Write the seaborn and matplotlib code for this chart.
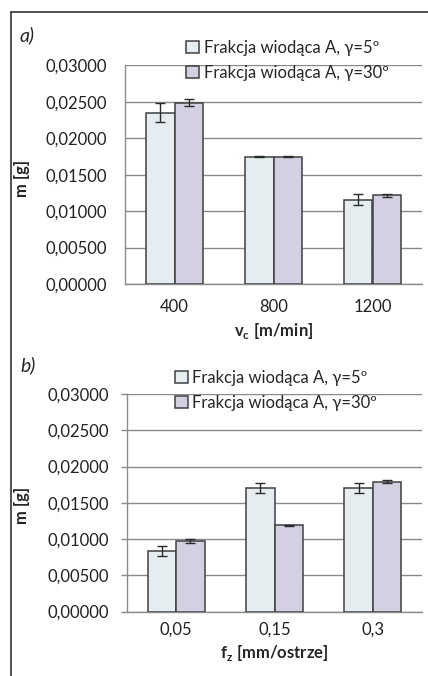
import pandas as pd
import matplotlib.pyplot as plt
import seaborn as sns
from matplotlib.lines import Line2D
from matplotlib.ticker import FuncFormatter, FixedLocator

# Data
series = ['Frakcja wiodąca A, γ=5º', 'Frakcja wiodąca A, γ=30º']

vc_labels = ['400', '800', '1200']
vc_g5 = [0.0235, 0.0175, 0.0116]
vc_g5_err = [0.0013, 0.00005, 0.0007]
vc_g30 = [0.0249, 0.0175, 0.0122]
vc_g30_err = [0.0005, 0.00005, 0.0002]

fz_labels = ['0,05', '0,15', '0,3']
fz_g5 = [0.0084, 0.0170, 0.0170]
fz_g5_err = [0.0007, 0.0007, 0.0007]
fz_g30 = [0.0097, 0.0119, 0.0179]
fz_g30_err = [0.0003, 0.00005, 0.0002]

yticks = [0.0, 0.005, 0.01, 0.015, 0.02, 0.025, 0.03]

colors = {series[0]: '#e4edf2', series[1]: '#d2cde5'}
grid_c = '#8a8a8a'

sns.set_style('white')
plt.rcParams['font.family'] = ['Lato', 'DejaVu Sans']

fig = plt.figure(figsize=(4.28, 6.76), dpi=100)
W, H = 428, 676


def panel(rect, cats, v1, e1, v2, e2, ytick_len, xpad, legend_xy, tag, tag_y, xlabel, xlabel_y, ylabel_y):
    ax = fig.add_axes(rect)
    df = pd.DataFrame({
        'cat': cats + cats,
        'series': [series[0]] * len(cats) + [series[1]] * len(cats),
        'val': v1 + v2,
    })
    sns.barplot(data=df, x='cat', y='val', hue='series', order=cats, hue_order=series,
                palette=colors, width=0.58, gap=0, errorbar=None,
                edgecolor='#404040', linewidth=1.1, ax=ax, zorder=3)
    # prescribed error bars at bar centres
    for cont, errs in zip(ax.containers, [e1, e2]):
        xs = [b.get_x() + b.get_width() / 2 for b in cont]
        hs = [b.get_height() for b in cont]
        ax.errorbar(xs, hs, yerr=errs, fmt='none', ecolor='#2b2b2b',
                    elinewidth=1, capsize=3.5, capthick=1, zorder=4)
    ax.set_ylim(0, 0.03)
    ax.set_xlim(-0.5, len(cats) - 0.5)
    ax.set_yticks(yticks)
    ax.yaxis.set_major_formatter(FuncFormatter(lambda v, p: f'{v:.5f}'.replace('.', ',')))
    ax.yaxis.grid(True, color=grid_c, linewidth=1, zorder=0)
    ax.set_axisbelow(True)
    for s in ['top', 'right']:
        ax.spines[s].set_visible(False)
    for s in ['left', 'bottom']:
        ax.spines[s].set_color(grid_c)
        ax.spines[s].set_linewidth(1)
    ax.xaxis.set_minor_locator(FixedLocator([i - 0.5 for i in range(len(cats) + 1)]))
    ax.tick_params(axis='x', which='major', length=0, pad=xpad, labelsize=12, colors='#222222')
    ax.tick_params(axis='x', which='minor', length=5, width=1, color=grid_c, direction='out')
    ax.tick_params(axis='y', length=ytick_len, width=1, color=grid_c, direction='out',
                   pad=13 - ytick_len, labelsize=12, labelcolor='#222222', left=True)
    ax.set_xlabel('')
    ax.set_ylabel('')
    handles, labels = ax.get_legend_handles_labels()
    ax.legend(handles, labels, loc='upper left', bbox_to_anchor=legend_xy,
              bbox_transform=fig.transFigure, frameon=False, fontsize=12,
              handlelength=0.75, handleheight=0.75, handletextpad=0.3,
              labelspacing=0.55, borderpad=0, borderaxespad=0)
    fig.text(20 / W, 1 - tag_y / H, tag, fontsize=14, style='italic', va='center', ha='left')
    cx = (rect[0] + rect[0] + rect[2]) / 2
    fig.text(cx, 1 - xlabel_y / H, xlabel, fontsize=12, weight='bold', ha='center', va='center')
    fig.text(22 / W, 1 - ylabel_y / H, 'm [g]', fontsize=12, weight='bold',
             rotation=90, ha='center', va='center')
    return ax


panel([125 / W, 1 - 284 / H, 297 / W, 218.5 / H], vc_labels, vc_g5, vc_g5_err, vc_g30, vc_g30_err,
      0, 11, (186 / W, 1 - 40 / H), 'a)', 35, r'v$_\mathregular{c}$ [m/min]', 331, 178)
panel([127 / W, 1 - 611.5 / H, 295 / W, 217.5 / H], fz_labels, fz_g5, fz_g5_err, fz_g30, fz_g30_err,
      4.5, 7.5, (175 / W, 1 - 370 / H), 'b)', 365, r'f$_\mathregular{z}$ [mm/ostrze]', 653, 505)

# outer frame (left and top edges visible)
fig.add_artist(Line2D([11 / W, 11 / W], [0, 1 - 12 / H], color='#333333', linewidth=1.2,
                      transform=fig.transFigure))
fig.add_artist(Line2D([11 / W, 1], [1 - 12 / H, 1 - 12 / H], color='#333333', linewidth=1.2,
                      transform=fig.transFigure))

fig.savefig('out.png', dpi=100)
